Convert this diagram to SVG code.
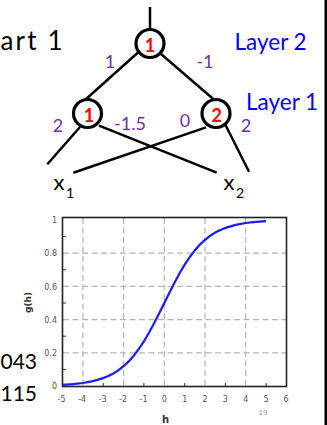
<svg xmlns="http://www.w3.org/2000/svg" width="327" height="425" viewBox="0 0 327 425">
<style>
.node circle{fill:#fff;stroke:#000;stroke-width:3.2}
.nl{font-family:Lato,"Liberation Sans",sans-serif;font-weight:bold;font-size:18px;fill:#ff0000;text-anchor:middle}
.w{font-family:Lato,"Liberation Sans",sans-serif;font-size:18px;fill:#7030a0;text-anchor:middle}
.lay{font-family:Lato,"Liberation Sans",sans-serif;font-size:22.5px;fill:#0000ff}
.big{font-family:Lato,"Liberation Sans",sans-serif;fill:#000}
.conn line{stroke:#000;stroke-width:2.5;stroke-linecap:butt}
.grid line{stroke:#b4b4b4;stroke-width:1.2;stroke-dasharray:6 3.5}
.tick line{stroke:#333;stroke-width:1}
.tl{font-family:"DejaVu Sans","Liberation Sans",sans-serif;font-size:8px;fill:#555}
</style>
<rect x="324.5" y="0" width="2.5" height="425" fill="#000"/>
<text class="big" x="0.5" y="49.5" font-size="26" textLength="62" lengthAdjust="spacing">art 1</text>
<text class="big" x="0.5" y="368.5" font-size="21">043</text>
<text class="big" x="0.5" y="401" font-size="21">115</text>
<g id="connectors" class="conn">
<line x1="150" y1="7" x2="150" y2="30"/>
<line x1="138" y1="52.5" x2="85" y2="100"/>
<line x1="161" y1="54" x2="213.3" y2="99"/>
<line x1="80" y1="127" x2="47.3" y2="164.3"/>
<line x1="99" y1="125.6" x2="216.7" y2="172.7"/>
<line x1="206" y1="127.4" x2="73.3" y2="172.7"/>
<line x1="225" y1="124" x2="249" y2="171.7"/>
</g>
<g id="n_top" class="node"><circle cx="150" cy="43.5" r="14"/><text class="nl" x="150" y="51.5">1</text></g>
<g id="n_h1" class="node"><circle cx="87.5" cy="113.5" r="14"/><text class="nl" x="89" y="121.5">1</text></g>
<g id="n_h2" class="node"><circle cx="216" cy="113.5" r="14"/><text class="nl" x="216.7" y="122">2</text></g>
<g id="weights">
<text class="w" x="110" y="68">1</text>
<text class="w" x="205" y="68">-1</text>
<text class="w" x="58" y="131.5">2</text>
<text class="w" x="130" y="129.5">-1.5</text>
<text class="w" x="185" y="126.5">0</text>
<text class="w" x="246" y="131.5">2</text>
</g>
<text class="lay" x="234.5" y="50">Layer 2</text>
<text class="lay" x="246" y="110">Layer 1</text>
<g id="x1"><text class="big" x="53.5" y="190" font-size="22">x</text><text class="big" x="66" y="197.5" font-size="14">1</text></g>
<g id="x2"><text class="big" x="223.5" y="190" font-size="22">x</text><text class="big" x="236" y="198" font-size="14">2</text></g>
<g id="plot">
<g class="grid">
<line x1="82.9" y1="218" x2="82.9" y2="386"/>
<line x1="123.6" y1="218" x2="123.6" y2="386"/>
<line x1="164.3" y1="218" x2="164.3" y2="386"/>
<line x1="205" y1="218" x2="205" y2="386"/>
<line x1="245.7" y1="218" x2="245.7" y2="386"/>
<line x1="63" y1="352.8" x2="286" y2="352.8"/>
<line x1="63" y1="319.6" x2="286" y2="319.6"/>
<line x1="63" y1="286.4" x2="286" y2="286.4"/>
<line x1="63" y1="253.2" x2="286" y2="253.2"/>
</g>
<g class="tick">
<line x1="63" y1="369.4" x2="66" y2="369.4"/>
<line x1="63" y1="336.2" x2="66" y2="336.2"/>
<line x1="63" y1="303" x2="66" y2="303"/>
<line x1="63" y1="269.8" x2="66" y2="269.8"/>
<line x1="63" y1="236.6" x2="66" y2="236.6"/>
<line x1="103.2" y1="386" x2="103.2" y2="383"/>
<line x1="143.9" y1="386" x2="143.9" y2="383"/>
<line x1="184.7" y1="386" x2="184.7" y2="383"/>
<line x1="225.4" y1="386" x2="225.4" y2="383"/>
<line x1="266.1" y1="386" x2="266.1" y2="383"/>
</g>
<rect x="62.5" y="217.5" width="224" height="169" fill="none" stroke="#222" stroke-width="1.6"/>
<polyline fill="none" stroke="#1a1aff" stroke-width="2.2" stroke-linejoin="round" points="62.5,384.9 72.7,384.2 82.9,383 93,381.1 103.2,378.1 108.3,376 113.4,373.4 118.5,370.2 123.6,366.2 128.7,361.4 133.8,355.7 138.8,349 143.9,341.4 149,332.7 154.1,323.3 159.2,313.3 164.3,303 169.4,292.7 174.5,282.7 179.6,273.3 184.7,264.6 189.8,257 194.9,250.3 199.9,244.6 205,239.8 210.1,235.8 215.2,232.6 220.3,230 225.4,227.9 235.6,224.9 245.7,223 255.9,221.8 266.1,221.1"/>
<g class="tl" text-anchor="end">
<text x="57" y="223">1</text>
<text x="57" y="256">0.8</text>
<text x="57" y="289.5">0.6</text>
<text x="57" y="322.5">0.4</text>
<text x="57" y="355.5">0.2</text>
<text x="57" y="389">0</text>
</g>
<g class="tl" text-anchor="middle">
<text x="61.5" y="402">-5</text>
<text x="82.2" y="402">-4</text>
<text x="102.5" y="402">-3</text>
<text x="123" y="402">-2</text>
<text x="143.5" y="402">-1</text>
<text x="164.3" y="402">0</text>
<text x="184.7" y="402">1</text>
<text x="205" y="402">2</text>
<text x="225.4" y="402">3</text>
<text x="245.7" y="402">4</text>
<text x="266.1" y="402">5</text>
<text x="286" y="402">6</text>
</g>
<text x="165.5" y="422.5" font-family="DejaVu Sans,Liberation Sans,sans-serif" font-weight="bold" font-size="10" fill="#333" text-anchor="middle">h</text>
<text x="263" y="414.5" font-family="DejaVu Sans,Liberation Sans,sans-serif" font-size="7" fill="#999" text-anchor="middle">19</text>
<text transform="translate(30.5,302.5) rotate(-90)" font-family="DejaVu Sans,Liberation Sans,sans-serif" font-weight="bold" font-size="9" fill="#333" text-anchor="middle">g(h)</text>
</g>
</svg>
